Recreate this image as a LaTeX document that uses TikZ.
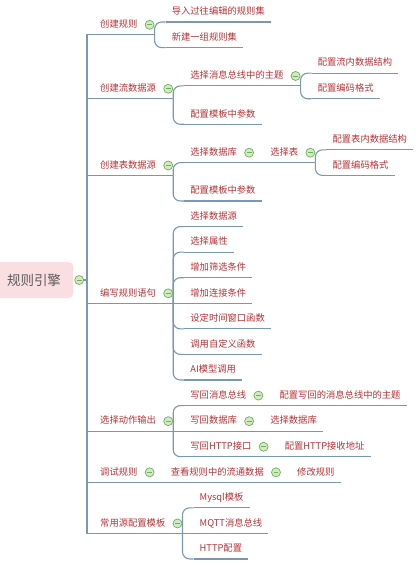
\documentclass[tikz,border=0pt]{standalone}
\usepackage{fontspec}
\newfontfamily\cjk{Noto Sans CJK SC}
\usepackage{xcolor}
\usetikzlibrary{positioning}

\definecolor{linkc}{RGB}{122,152,182}
\definecolor{textc}{RGB}{186,48,52}
\definecolor{foldc}{RGB}{112,176,88}
\definecolor{foldf}{RGB}{208,234,194}
\definecolor{rootf}{RGB}{250,222,226}
\definecolor{roott}{RGB}{92,92,92}

\begin{document}
\begin{tikzpicture}[
    x=1pt, y=-1pt,
    link/.style={draw=linkc, line width=1.1pt},
    fork/.style={link, rounded corners=7pt},
    topic/.style={
      anchor=south west, inner xsep=6pt, inner ysep=5pt,
      text height=7.5pt, text depth=2pt, text=textc,
      font=\cjk\fontsize{9.3}{11}\selectfont,
      append after command={(\tikzlastnode.south west) edge[link] (\tikzlastnode.south east)}
    },
    root/.style={
      rectangle, rounded corners=4pt, fill=rootf, text=roott,
      minimum width=78pt, minimum height=36pt,
      font=\cjk\fontsize{13.5}{16}\selectfont
    },
    fold/.style={
      circle, draw=foldc, fill=foldf, line width=0.7pt,
      minimum size=9pt, inner sep=0pt,
      path picture={\draw[foldc, line width=0.8pt]
        ([xshift=-2.4pt]path picture bounding box.center) --
        ([xshift=2.4pt]path picture bounding box.center);}
    }
  ]
  \useasboundingbox (0,0) rectangle (416,563);
  % half-row slots for the underlines
  \foreach \k in {0,...,42}
    \coordinate (s\k) at (0,{22+12.785*\k});
  \coordinate (col) at (94,0);
  \coordinate (trunk) at (87,280);

  \node[root] (eng) at (34,280) {规则引擎};
  \node[fold] (eng-m) at ([xshift=6pt]eng.east) {};
  \draw[link] (eng-m) -- (trunk);

  % main branches
  \node[topic] (crt)  at (col |- s1)  {创建规则};
  \node[topic] (strm) at (col |- s6)  {创建流数据源};
  \node[topic] (tbl)  at (col |- s12) {创建表数据源};
  \node[topic] (stmt) at (col |- s22) {编写规则语句};
  \node[topic] (act)  at (col |- s32) {选择动作输出};
  \node[topic] (dbg)  at (col |- s36) {调试规则};
  \node[topic] (tpl)  at (col |- s40) {常用源配置模板};

  \foreach \n in {crt,strm,tbl,stmt,act,dbg,tpl}
    \draw[link] (trunk) |- (\n.south west);

  \foreach \n in {crt,strm,tbl,stmt,act,tpl} {
    \coordinate (\n-f) at ([xshift=11pt]\n.south east);
    \draw[link] (\n.south east) -- (\n-f);
  }

  % second level
  \node[topic, xshift=11pt] (crt1) at (crt-f |- s0) {导入过往编辑的规则集};
  \node[topic, xshift=11pt] (crt2) at (crt-f |- s2) {新建一组规则集};

  \node[topic, xshift=11pt] (strm1) at (strm-f |- s5) {选择消息总线中的主题};
  \node[topic, xshift=11pt] (strm2) at (strm-f |- s8) {配置模板中参数};

  \node[topic, xshift=11pt] (tbl1) at (tbl-f |- s11) {选择数据库};
  \node[topic, xshift=11pt] (tbl2) at (tbl-f |- s14) {配置模板中参数};
  \node[topic, right=21pt of tbl1.south east, anchor=south west] (tblx) {选择表};

  \node[topic, xshift=11pt] (stmt1) at (stmt-f |- s16) {选择数据源};
  \node[topic, xshift=11pt] (stmt2) at (stmt-f |- s18) {选择属性};
  \node[topic, xshift=11pt] (stmt3) at (stmt-f |- s20) {增加筛选条件};
  \node[topic, xshift=11pt] (stmt4) at (stmt-f |- s22) {增加连接条件};
  \node[topic, xshift=11pt] (stmt5) at (stmt-f |- s24) {设定时间窗口函数};
  \node[topic, xshift=11pt] (stmt6) at (stmt-f |- s26) {调用自定义函数};
  \node[topic, xshift=11pt] (stmt7) at (stmt-f |- s28) {AI模型调用};

  \node[topic, xshift=11pt] (act1) at (act-f |- s30) {写回消息总线};
  \node[topic, xshift=11pt] (act2) at (act-f |- s32) {写回数据库};
  \node[topic, xshift=11pt] (act3) at (act-f |- s34) {写回HTTP接口};
  \node[topic, right=21pt of act1.south east, anchor=south west] (act1x) {配置写回的消息总线中的主题};
  \node[topic, right=21pt of act2.south east, anchor=south west] (act2x) {选择数据库};
  \node[topic, right=21pt of act3.south east, anchor=south west] (act3x) {配置HTTP接收地址};

  \node[topic, right=21pt of dbg.south east, anchor=south west] (dbg1) {查看规则中的流通数据};
  \node[topic, right=21pt of dbg1.south east, anchor=south west] (dbg2) {修改规则};

  \node[topic, xshift=11pt] (tpl1) at (tpl-f |- s38) {Mysql模板};
  \node[topic, xshift=11pt] (tpl2) at (tpl-f |- s40) {MQTT消息总线};
  \node[topic, xshift=11pt] (tpl3) at (tpl-f |- s42) {HTTP配置};

  \foreach \n in {strm1,tblx} {
    \coordinate (\n-f) at ([xshift=11pt]\n.south east);
    \draw[link] (\n.south east) -- (\n-f);
  }

  % third level
  \node[topic, xshift=11pt] (strm11) at (strm1-f |- s4) {配置流内数据结构};
  \node[topic, xshift=11pt] (strm12) at (strm1-f |- s6) {配置编码格式};
  \node[topic, xshift=11pt] (tblx1) at (tblx-f |- s10) {配置表内数据结构};
  \node[topic, xshift=11pt] (tblx2) at (tblx-f |- s12) {配置编码格式};

  % brackets
  \foreach \c in {crt1,crt2} \draw[fork] (crt-f) |- (\c.south west);
  \foreach \c in {strm1,strm2} \draw[fork] (strm-f) |- (\c.south west);
  \foreach \c in {strm11,strm12} \draw[fork] (strm1-f) |- (\c.south west);
  \foreach \c in {tbl1,tbl2} \draw[fork] (tbl-f) |- (\c.south west);
  \foreach \c in {tblx1,tblx2} \draw[fork] (tblx-f) |- (\c.south west);
  \foreach \c in {stmt1,stmt2,stmt3,stmt5,stmt6,stmt7} \draw[fork] (stmt-f) |- (\c.south west);
  \draw[link] (stmt-f) -- (stmt4.south west);
  \foreach \c in {act1,act3} \draw[fork] (act-f) |- (\c.south west);
  \draw[link] (act-f) -- (act2.south west);
  \foreach \c in {tpl1,tpl3} \draw[fork] (tpl-f) |- (\c.south west);
  \draw[link] (tpl-f) -- (tpl2.south west);

  % straight chains
  \draw[link] (tbl1.south east) -- (tblx.south west);
  \draw[link] (act1.south east) -- (act1x.south west);
  \draw[link] (act2.south east) -- (act2x.south west);
  \draw[link] (act3.south east) -- (act3x.south west);
  \draw[link] (dbg.south east) -- (dbg1.south west);
  \draw[link] (dbg1.south east) -- (dbg2.south west);

  % collapse markers
  \foreach \n in {crt,strm,tbl,stmt,act,dbg,tpl,strm1,tbl1,tblx,act1,act2,act3,dbg1}
    \node[fold] (\n-m) at ([xshift=6pt]\n.east) {};
\end{tikzpicture}
\end{document}
